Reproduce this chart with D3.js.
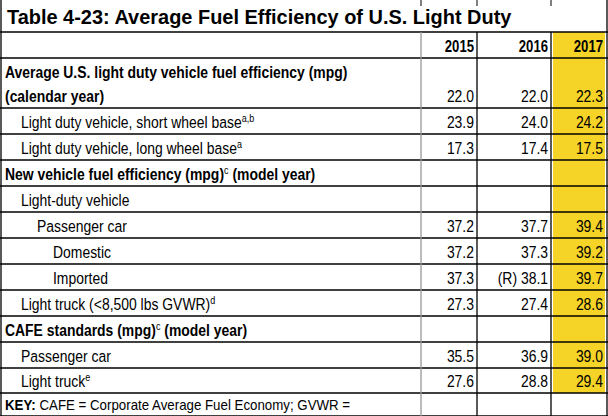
<!DOCTYPE html><html><head><meta charset="utf-8">
<script src="https://cdn.jsdelivr.net/npm/d3@7"></script>
<style>body{margin:0;background:#fff}text{font-family:"Liberation Sans",Arial,sans-serif}</style>
</head><body><svg id="c" width="608" height="416"></svg>
<script>
const years = ["2015","2016","2017"];
const labels = [
  ["Average U.S. light duty vehicle fuel efficiency (mpg)|(calendar year)","",0,true],
  ["Light duty vehicle, short wheel base","a,b",1,false],
  ["Light duty vehicle, long wheel base","a",1,false],
  ["New vehicle fuel efficiency (mpg)","c",0,true,"(model year)"],
  ["Light-duty vehicle","",1,false],
  ["Passenger car","",2,false],
  ["Domestic","",3,false],
  ["Imported","",3,false],
  ["Light truck (<8,500 lbs GVWR)","d",1,false],
  ["CAFE standards (mpg)","c",0,true,"(model year)"],
  ["Passenger car","",1,false],
  ["Light truck","e",1,false]
];
const v2015 = ["22.0","23.9","17.3","","","37.2","37.2","37.3","27.3","","35.5","27.6"];
const v2016 = ["22.0","24.0","17.4","","","37.7","37.3","(R) 38.1","27.4","","36.9","28.8"];
const v2017 = ["22.3","24.2","17.5","","","39.4","39.2","39.7","28.6","","39.0","29.4"];
const rowEdges = [32,58,108,134,160,186,212,238,264,290,316,342,368,393,416];
const svg = d3.select("#c");
const xr = d3.scaleOrdinal().domain(years).range([474,548,603]);
const SX=0.82;
function txt(x,y,size,bold,anchor,sx){
  sx=sx||SX;
  return svg.append("text").attr("x",x/sx).attr("y",y).attr("transform",`scale(${sx},1)`)
    .attr("font-size",size).attr("font-weight",bold?"bold":"normal").attr("text-anchor",anchor||"start");
}
svg.append("rect").attr("x",553).attr("y",32).attr("width",52).attr("height",361).attr("fill","#f5d327");
txt(7,24,21,true,"start",0.95).text("Table 4-23:  Average Fuel Efficiency of U.S. Light Duty");
rowEdges.forEach(y=>svg.append("line").attr("x1",0).attr("x2",608).attr("y1",y).attr("y2",y).attr("stroke","#000").attr("stroke-width",1.3));
svg.append("line").attr("x1",1).attr("x2",1).attr("y1",0).attr("y2",416).attr("stroke","#000").attr("stroke-width",1.3);
svg.append("line").attr("x1",607).attr("x2",607).attr("y1",0).attr("y2",416).attr("stroke","#000").attr("stroke-width",1.3);
svg.append("line").attr("x1",421).attr("x2",421).attr("y1",32).attr("y2",416).attr("stroke","#999").attr("stroke-width",1.3);
[477,551].forEach(x=>svg.append("line").attr("x1",x).attr("x2",x).attr("y1",32).attr("y2",416).attr("stroke","#000").attr("stroke-width",1.3));
[421,477,551].forEach(x=>svg.append("line").attr("x1",x).attr("x2",x).attr("y1",0).attr("y2",6).attr("stroke","#000"));
years.forEach(y=>txt(xr(y),52,16,true,"end").text(y));
const fs=17;
labels.forEach((l,i)=>{
  const top=rowEdges[i+1], bot=rowEdges[i+2];
  const base=bot-6;
  const x=5+l[2]*16;
  const parts=l[0].split("|");
  const t=txt(x,parts.length>1?top+20:base,fs,l[3]);
  t.append("tspan").text(parts[0]);
  if(l[1]) t.append("tspan").attr("dy",-6).attr("font-size",11).attr("font-weight","normal").text(l[1]);
  if(l[4]) t.append("tspan").attr("dy",6).text(" "+l[4]);
  if(parts.length>1) txt(x,base,fs,true).text(parts[1]);
  [v2015,v2016,v2017].forEach((arr,j)=>{
    if(arr[i]) txt(xr(years[j]),base,fs,false,"end").text(arr[i]);
  });
});
const k=txt(5,410,14,true,"start",0.95);
k.append("tspan").text("KEY:");
k.append("tspan").attr("font-weight","normal").text(" CAFE = Corporate Average Fuel Economy; GVWR =");
</script></body></html>
